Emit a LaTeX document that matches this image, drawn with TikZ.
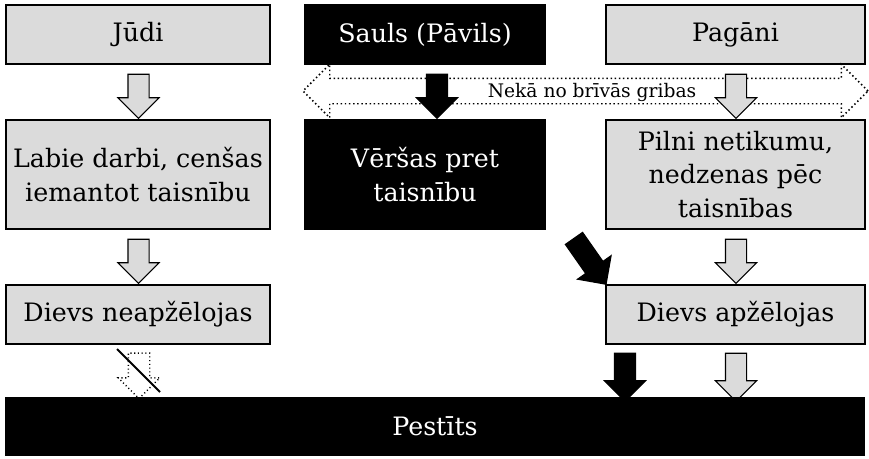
\documentclass[tikz,border=0pt]{standalone}
\usepackage{fontspec}
\setmainfont{DejaVu Serif}
\usetikzlibrary{shapes.arrows}

\definecolor{boxgray}{gray}{0.86}

\tikzset{
  box/.style={draw=black, line width=0.8pt, fill=boxgray, align=center,
    font=\fontsize{19}{25}\selectfont, inner sep=0pt},
  darkbox/.style={box, fill=black, text=white},
  downarrow/.style={single arrow, draw=black, line width=0.8pt, fill=boxgray,
    shape border rotate=270, inner sep=7.5pt, single arrow head extend=7.5pt,
    minimum width=30pt, minimum height=33pt},
  darkarrow/.style={downarrow, fill=black},
  dotarrow/.style={downarrow, fill=none, dotted, line width=1.1pt},
  freearrow/.style={double arrow, draw=black, dotted, line width=1.1pt,
    inner sep=9pt, double arrow head extend=10.5pt,
    minimum width=39pt, minimum height=423.75pt}
}

\begin{document}
\begin{tikzpicture}[x=0.75pt, y=-0.75pt]
  \useasboundingbox (0,0) rectangle (869,458);

  % top row
  \node[box, minimum width=198pt, minimum height=44.25pt] (judi) at (138,34.5) {Jūdi};
  \node[darkbox, minimum width=180pt, minimum height=44.25pt] (sauls) at (425,34.5) {Sauls (Pāvils)};
  \node[box, minimum width=194.25pt, minimum height=44.25pt] (pagani) at (735.5,34.5) {Pagāni};

  % no free will
  \node[freearrow] (nofree) at (585.5,91) {};
  \node[font=\fontsize{14}{16}\selectfont] (freewill) at (592,92) {Nekā no brīvās gribas};

  \node[downarrow] (a1) at (138.5,91) {};
  \node[darkarrow] (a2) at (437,91) {};
  \node[downarrow] (a3) at (736,91) {};

  % middle row
  \node[box, minimum width=198pt, minimum height=81.75pt] (labie) at (138,174.5) {Labie darbi, cenšas\\iemantot taisnību};
  \node[darkbox, minimum width=180pt, minimum height=81.75pt] (versas) at (425,174.5) {Vēršas pret\\taisnību};
  \node[box, minimum width=194.25pt, minimum height=81.75pt] (pilni) at (735.5,174.5) {Pilni netikumu,\\nedzenas pēc\\taisnības};

  \node[downarrow] (a4) at (138.5,256) {};
  \node[darkarrow, rotate=35, minimum height=42pt] (a9) at (587,257) {};
  \node[downarrow] (a5) at (736,256) {};

  % bottom row
  \node[box, minimum width=198pt, minimum height=44.25pt] (neap) at (138,314.5) {Dievs neapžēlojas};
  \node[box, minimum width=194.25pt, minimum height=44.25pt] (apz) at (735.5,314.5) {Dievs apžēlojas};

  \node[dotarrow, minimum height=34pt] (a6) at (139,370.5) {};
  \draw[line width=1.5pt] (117,349) -- (160,392);
  \node[darkarrow, minimum height=36pt] (a7) at (625,372) {};
  \node[downarrow, minimum height=36pt] (a8) at (736,372) {};

  \node[darkbox, minimum width=643.5pt, minimum height=42.75pt] (pestits) at (435,426.5) {Pestīts};
\end{tikzpicture}
\end{document}
